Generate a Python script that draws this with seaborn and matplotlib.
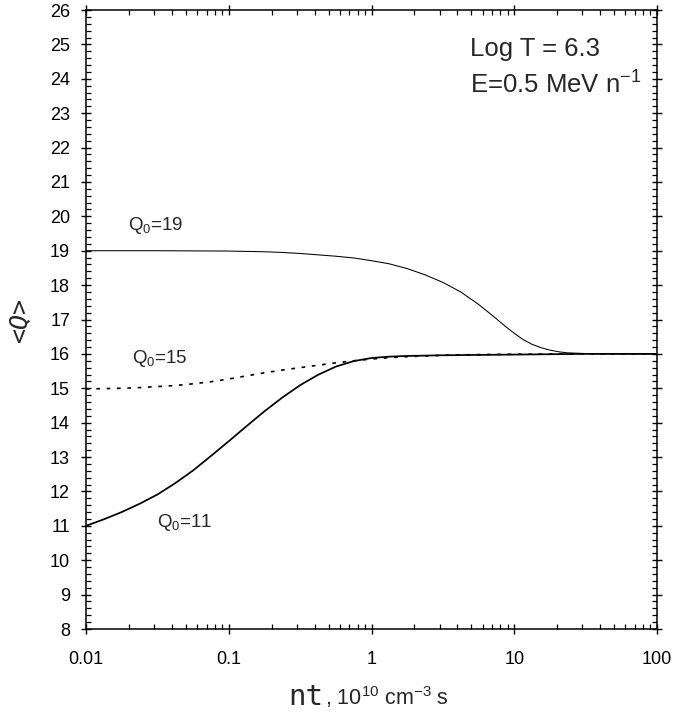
import numpy as np
import pandas as pd
import matplotlib
matplotlib.use("Agg")
import matplotlib.pyplot as plt
import seaborn as sns
from matplotlib.ticker import LogLocator, MultipleLocator, FixedLocator, FixedFormatter, NullFormatter

# Mean charge <Q> versus ionization parameter nt for three initial charges
nt_19 = [0.01, 0.0316, 0.1, 0.178, 0.237, 0.316, 0.422, 0.562, 0.75, 1.0, 1.33,
         1.78, 2.37, 3.16, 4.22, 5.62, 6.5, 7.5, 8.66, 10.0, 11.5, 13.3, 15.4, 17.8,
         20.5, 23.7, 31.6, 56.2, 100.0]
q_19 = [19.0, 19.0, 18.99, 18.97, 18.95, 18.92, 18.88, 18.84, 18.79, 18.71, 18.62,
        18.48, 18.3, 18.08, 17.8, 17.44, 17.23, 17.02, 16.8, 16.6, 16.42, 16.28,
        16.18, 16.11, 16.06, 16.03, 16.01, 16.0, 16.0]

nt_15 = [0.01, 0.0133, 0.0178, 0.0237, 0.0316, 0.0422, 0.0562, 0.075, 0.1, 0.133,
         0.178, 0.237, 0.316, 0.422, 0.562, 0.75, 1.0, 1.33, 1.78, 2.37, 3.16, 5.62,
         10.0, 31.6, 100.0]
q_15 = [14.98, 14.99, 15.0, 15.02, 15.05, 15.08, 15.13, 15.19, 15.27, 15.36, 15.45,
        15.53, 15.6, 15.67, 15.74, 15.8, 15.85, 15.89, 15.92, 15.94, 15.96, 15.98,
        15.99, 16.0, 16.0]

nt_11 = [0.01, 0.01334, 0.01778, 0.02371, 0.03162, 0.04217, 0.05623, 0.07499, 0.1,
         0.1334, 0.1778, 0.2371, 0.3162, 0.4217, 0.5623, 0.7499, 1.0, 1.334, 1.778,
         3.162, 5.623, 10.0, 31.62, 100.0]
q_11 = [11.0, 11.19, 11.4, 11.64, 11.91, 12.24, 12.61, 13.03, 13.46, 13.9, 14.33,
        14.73, 15.09, 15.39, 15.63, 15.79, 15.88, 15.92, 15.94, 15.96, 15.97, 15.98,
        16.0, 16.0]

x_ticks = [0.01, 0.1, 1, 10, 100]
x_tick_labels = ["0.01", "0.1", "1", "10", "100"]
y_ticks = list(range(8, 27))

df19 = pd.DataFrame({"nt": nt_19, "Q": q_19})
df15 = pd.DataFrame({"nt": nt_15, "Q": q_15})
df11 = pd.DataFrame({"nt": nt_11, "Q": q_11})

sns.set_style("ticks")
plt.rcParams["font.family"] = ["Liberation Sans", "DejaVu Sans"]
plt.rcParams["mathtext.fontset"] = "custom"
plt.rcParams["mathtext.rm"] = "Liberation Sans"
plt.rcParams["mathtext.it"] = "Liberation Sans:italic"
plt.rcParams["mathtext.default"] = "rm"

fig = plt.figure(figsize=(6.73, 7.15), dpi=100)
ax = fig.add_axes([86 / 673, 1 - 629 / 715, (657 - 86) / 673, (629 - 10) / 715])

sns.lineplot(data=df19, x="nt", y="Q", ax=ax, color="black", linewidth=0.75,
             estimator=None, sort=False)
sns.lineplot(data=df15, x="nt", y="Q", ax=ax, color="black", linewidth=1.2,
             linestyle=(0, (2.2, 4.0)), estimator=None, sort=False)
sns.lineplot(data=df11, x="nt", y="Q", ax=ax, color="black", linewidth=1.25,
             estimator=None, sort=False)

ax.set_xscale("log")
ax.set_xlim(0.01, 100)
ax.set_ylim(8, 26)

ax.xaxis.set_major_locator(FixedLocator(x_ticks))
ax.xaxis.set_major_formatter(FixedFormatter(x_tick_labels))
ax.xaxis.set_minor_locator(LogLocator(base=10, subs=np.arange(2, 10)))
ax.xaxis.set_minor_formatter(NullFormatter())
ax.yaxis.set_major_locator(FixedLocator(y_ticks))
ax.yaxis.set_minor_locator(MultipleLocator(0.2))

for side in ["top", "right", "bottom", "left"]:
    ax.spines[side].set_visible(True)
    ax.spines[side].set_linewidth(1.1)
    ax.spines[side].set_color("black")

ax.tick_params(which="major", direction="inout", length=7, width=1.0,
               top=True, right=True, labelsize=13, colors="black")
ax.tick_params(axis="y", which="major", pad=8)
ax.tick_params(axis="x", which="major", pad=12)
ax.tick_params(which="minor", direction="in", length=3.5, width=0.9,
               top=True, right=True, colors="black")

ax.set_xlabel("")
ax.set_ylabel("")

# axis titles
fig.text(323 / 673, 1 - 705 / 715, "nt", family="DejaVu Sans Mono", fontsize=21,
         ha="right", va="baseline")
fig.text(325 / 673, 1 - 705 / 715, r", 10$^{10}$ cm$^{-3}$ s", fontsize=15.5,
         ha="left", va="baseline")
fig.text(19 / 673, 1 - 320 / 715, "<Q>", family="DejaVu Sans Mono", style="italic",
         fontsize=18, rotation=90, ha="center", va="center")

# curve labels
ax.annotate(r"Q$_0$=19", xy=(128 / 673, 1 - 230 / 715), xycoords="figure fraction",
            fontsize=13.5, ha="left", va="baseline")
ax.annotate(r"Q$_0$=15", xy=(132 / 673, 1 - 363 / 715), xycoords="figure fraction",
            fontsize=13.5, ha="left", va="baseline")
ax.annotate(r"Q$_0$=11", xy=(157 / 673, 1 - 527 / 715), xycoords="figure fraction",
            fontsize=13.5, ha="left", va="baseline")

# plasma conditions
fig.text(470 / 673, 1 - 56 / 715, "Log T = 6.3", fontsize=18.5, ha="left", va="baseline")
fig.text(470 / 673, 1 - 94 / 715, r"E=0.5 MeV n$^{-1}$", fontsize=18.5,
         ha="left", va="baseline")

fig.savefig("out.png", dpi=100, facecolor="white")
